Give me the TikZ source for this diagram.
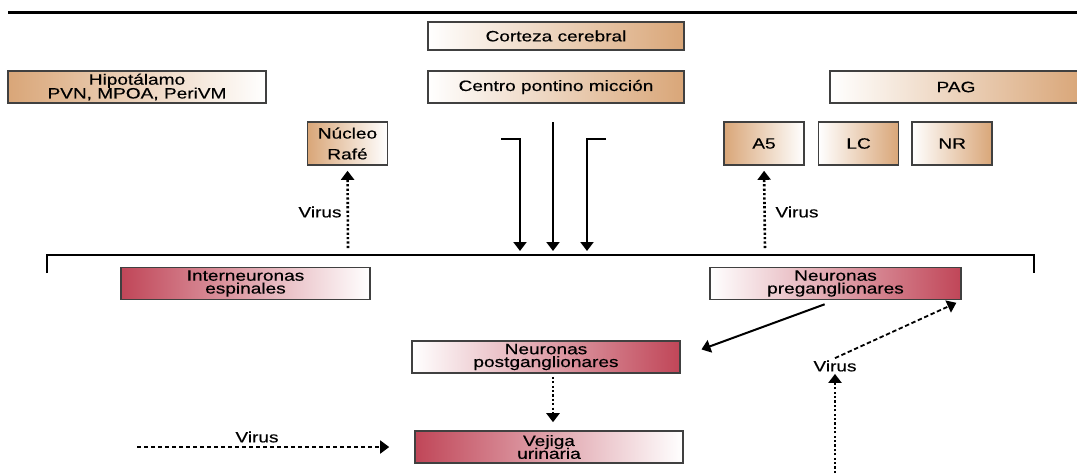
\documentclass[tikz,border=0pt]{standalone}
\usepackage{fontspec}
\setmainfont{Liberation Sans}[FakeStretch=1.27,FakeBold=0.4]
\usetikzlibrary{arrows.meta,positioning}
\definecolor{tostado}{RGB}{217,166,120}
\definecolor{vino}{RGB}{192,70,88}
\newcommand{\letrapeq}{\fontsize{7.5}{6.4}\selectfont\setlength{\lineskiplimit}{-5pt}}

\begin{document}
\begin{tikzpicture}[x=0.5pt,y=-0.5pt,
  font=\letrapeq, >={Triangle[length=4.5pt,width=6.5pt]},
  box/.style={draw=black!75,line width=0.8pt,inner sep=0pt,align=center},
  cafe/.style={box,left color=tostado,right color=white},
  cafer/.style={box,left color=white,right color=tostado},
  roja/.style={box,left color=vino,right color=white},
  rojar/.style={box,left color=white,right color=vino},
  larga/.style={minimum height=16pt},
  peq/.style={minimum width=40pt,minimum height=21.5pt},
  lbl/.style={inner sep=1pt},
  flecha/.style={->,line width=1pt},
  punteada/.style={->,line width=1.3pt,dash pattern=on 1.1pt off 1.1pt},
  discont/.style={->,line width=0.9pt,dash pattern=on 2.2pt off 1.3pt}]
\useasboundingbox (0,0) rectangle (1077,473);
% encefalo
\draw[line width=1.5pt] (8,12) -- (1077,12);
\node[cafer,minimum width=128pt,minimum height=14pt] (corteza) at (556,36) {Corteza cerebral};
\node[cafe,larga,minimum width=129pt] (hipo) at (137,87) {Hipotálamo\\[0.5pt]PVN, MPOA, PeriVM};
\node[cafer,larga,minimum width=128pt] (pontino) at (556,87) {Centro pontino micción};
\node[cafer,larga,minimum width=126pt] (pag) at (956,87) {PAG};
\node[cafe,peq] (rafe) at (347.5,143.5) {Núcleo\\[4pt]Rafé};
\node[cafe,peq] (a5) at (764,143.5) {A5};
\node[cafer,peq,right=6.5pt of a5] (lc) {LC};
\node[cafer,peq,right=6pt of lc] (nr) {NR};
% vias descendentes
\coordinate (l0) at (501,139);
\coordinate (m0) at (553,122);
\coordinate (r0) at (606,139);
\coordinate (lb) at (520,251);
\coordinate (mb) at (553,251);
\coordinate (rb) at (587,251);
\draw[flecha] (l0) -| (lb);
\draw[flecha] (m0) -- (mb);
\draw[flecha] (r0) -| (rb);
% medula
\draw[line width=0.9pt] (47,273) -- (47,255) -- (1034,255) -- (1034,273);
\coordinate (vr) at (348,248);
\coordinate (va) at (765,248);
\node[lbl] (virusrafe) at (320,212) {Virus};
\node[lbl] (virusa5) at (797,212) {Virus};
\draw[punteada,shorten >=2.5pt] (vr) -- (rafe.south);
\draw[punteada,shorten >=2.5pt] (va) -- (a5.south);
\node[roja,larga,minimum width=124.5pt] (inter) at (245.5,283.5) {Interneuronas\\espinales};
\node[rojar,larga,minimum width=125.5pt] (pre) at (835.5,283.5) {Neuronas\\preganglionares};
% periferia
\node[rojar,larga,minimum width=134pt] (post) at (546,357) {Neuronas\\postganglionares};
\node[roja,larga,minimum width=134pt] (vej) at (549,447) {Vejiga\\urinaria};
\draw[flecha,shorten <=5.8pt,shorten >=11pt] (pre.south) -- (post.east);
\draw[punteada,shorten <=1.5pt,shorten >=4pt] ([xshift=3.5pt]post.south) -- ([xshift=2pt]vej.north);
\coordinate (vv) at (137,447);
\node[lbl] (virusvej) at (257,437) {Virus};
\draw[discont,shorten >=12.5pt] (vv) -- (vej.west);
\node[lbl] (viruspre) at (835,366) {Virus};
\coordinate (vb) at (835,473);
\draw[punteada] (vb) -- (viruspre.south);
\draw[discont,shorten >=3pt] (viruspre.north) -- (pre.south east);
\end{tikzpicture}
\end{document}
